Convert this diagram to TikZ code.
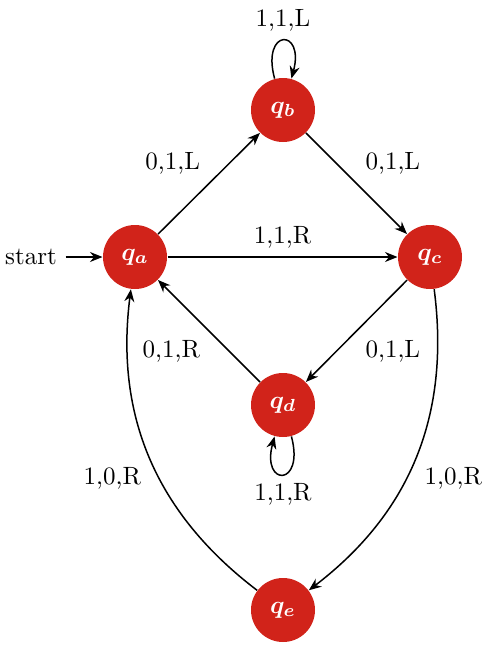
\documentclass[tikz,border=0pt]{standalone}
\usepackage{amsmath,bm}
\usetikzlibrary{automata,arrows.meta}
\definecolor{statered}{RGB}{209,35,26}
\begin{document}
\begin{tikzpicture}[x=0.4pt,y=0.4pt,
  >={Stealth[length=5pt,width=4pt]},
  st/.style={circle, fill=statered, draw=none, minimum size=25.6pt, inner sep=0pt, text=white},
  tr/.style={->, semithick}]
\useasboundingbox (0,0) rectangle (484,-648);
\node[st] (qa) at (135,-257) {$\bm{q_a}$};
\node[st] (qb) at (283,-110) {$\bm{q_b}$};
\node[st] (qc) at (430,-257) {$\bm{q_c}$};
\node[st] (qd) at (283,-405) {$\bm{q_d}$};
\node[st] (qe) at (283,-610) {$\bm{q_e}$};
\node (start) at (31,-257) {start};
\draw[tr] (start) -- (qa);
\draw[tr] (qa) -- node[above left]{0,1,L} (qb);
\draw[tr] (qb) -- node[above right]{0,1,L} (qc);
\draw[tr] (qa) -- node[above]{1,1,R} (qc);
\draw[tr] (qc) -- node[below right]{0,1,L} (qd);
\draw[tr] (qd) -- node[below left]{0,1,R} (qa);
\draw[tr] (qb) to[loop above] node[above]{1,1,L} ();
\draw[tr] (qd) to[loop below] node[below]{1,1,R} ();
\draw[tr] (qe) to[bend left=30] node[below left]{1,0,R} (qa);
\draw[tr] (qc) to[bend left=30] node[below right]{1,0,R} (qe);
\end{tikzpicture}
\end{document}
